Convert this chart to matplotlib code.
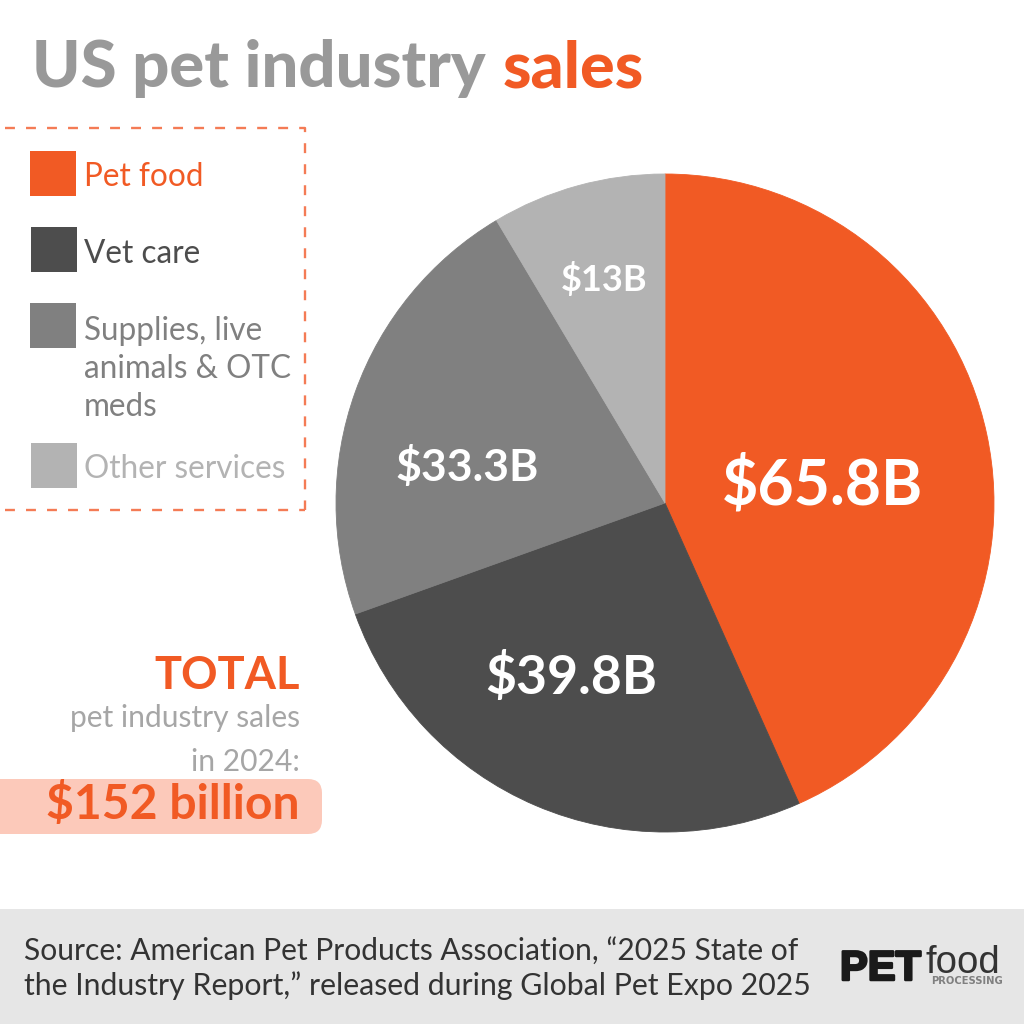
import matplotlib
matplotlib.use('Agg')
import matplotlib.pyplot as plt
import matplotlib.patheffects as pe
from matplotlib.patches import Rectangle, FancyBboxPatch

plt.rcParams['font.family'] = ['Lato', 'DejaVu Sans']

categories = ['Pet food', 'Vet care', 'Supplies, live\nanimals & OTC\nmeds', 'Other services']
values = [65.8, 39.8, 33.3, 13]
value_labels = ['$65.8B', '$39.8B', '$33.3B', '$13B']
colors = ['#F15A24', '#4D4D4D', '#808080', '#B3B3B3']
legend_text_colors = ['#F15A24', '#4D4D4D', '#808080', '#B3B3B3']

ORANGE = '#F15A24'
W = 1024


def py(y):
    # pixel y measured from the top of the picture
    return W - y


fig = plt.figure(figsize=(10.24, 10.24), dpi=100, facecolor='white')
ax = fig.add_axes([0, 0, 1, 1])

# pie
wedges, _ = ax.pie(values, colors=colors, startangle=90, counterclock=False,
                   center=(665, py(503)), radius=329, frame=True)
for w, c in zip(wedges, colors):
    w.set_edgecolor(c)  # hides the thin seam between slices
    w.set_linewidth(0.6)
ax.set_xlim(0, W)
ax.set_ylim(0, W)
ax.set_aspect('equal')
ax.axis('off')

label_pos = [(823, 486), (571, 677), (467, 467), (604, 279)]
label_size = [45, 38.5, 32, 26]
for s, (x, y), fs in zip(value_labels, label_pos, label_size):
    ax.text(x, py(y), s, color='white', fontsize=fs, fontweight='bold',
            ha='center', va='center')

# title
ax.text(32, py(69), 'US pet industry', color='#999999', fontsize=47,
        fontweight='black', ha='left', va='center')
ax.text(503, py(69), 'sales', color=ORANGE, fontsize=46.5, fontweight='black',
        ha='left', va='center')

# legend box, dashed on three sides
dash = (0, (4.2, 4.7))
ax.plot([5, 305, 305], [py(128), py(128), py(510)], color='#F47B55',
        lw=1.7, linestyle=dash)
ax.plot([5, 305], [py(510), py(510)], color='#F47B55', lw=1.7, linestyle=dash)

swatch_y = [151, 227, 303, 443]
swatch_x = [30, 31, 30, 31]
text_y = [177, 254, 369, 469]
for i in range(4):
    ax.add_patch(Rectangle((swatch_x[i], py(swatch_y[i] + 45)), 45.5, 45,
                           color=colors[i], lw=0))
    ax.text(84, py(text_y[i]), categories[i], color=legend_text_colors[i],
            fontsize=22.7, ha='left', va='center', linespacing=1.35)

# total block
ax.add_patch(FancyBboxPatch((-30, py(834)), 352, 55,
                            boxstyle='round,pad=0,rounding_size=14',
                            fc='#FCC9BA', ec='none'))
ax.text(300, py(676), 'TOTAL', color=ORANGE, fontsize=32.5, fontweight='bold',
        ha='right', va='center')
ax.text(300, py(718), 'pet industry sales', color='#A6A6A6', fontsize=21.6,
        ha='right', va='center')
ax.text(300, py(762), 'in 2024:', color='#A6A6A6', fontsize=21.6,
        ha='right', va='center')
ax.text(300, py(804), '$152 billion', color=ORANGE, fontsize=34.7,
        fontweight='bold', ha='right', va='center')

# footer
ax.add_patch(Rectangle((0, 0), W, py(909), color='#E6E6E6', lw=0))
ax.text(24, py(951), 'Source: American Pet Products Association, \u201c2025 State of',
        color='#333333', fontsize=21.6, ha='left', va='center')
ax.text(24, py(986), 'the Industry Report,\u201d released during Global Pet Expo 2025',
        color='#333333', fontsize=21.75, ha='left', va='center')

# logo
ax.text(840, py(980), 'PET', color='#1A1A1A', fontsize=30, fontweight='bold',
        ha='left', va='baseline', family=['Liberation Sans', 'DejaVu Sans'],
        path_effects=[pe.withStroke(linewidth=1.8, foreground='#1A1A1A')])
ax.text(926, py(973), 'food', color='#333333', fontsize=27.6, ha='left', va='baseline',
        family=['Liberation Sans', 'DejaVu Sans'])
ax.text(1003, py(984), 'PROCESSING', color='#808080', fontsize=7.2, fontweight='bold',
        ha='right', va='baseline', family=['DejaVu Sans'])

fig.savefig('out.png', dpi=100)
